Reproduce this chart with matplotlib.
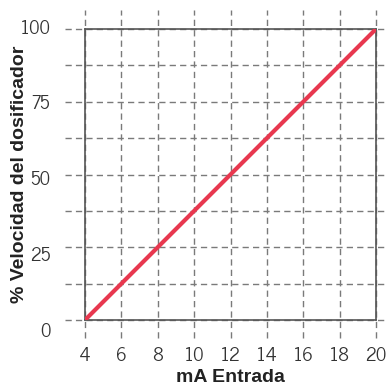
import matplotlib
matplotlib.use("Agg")
import matplotlib.pyplot as plt
from matplotlib.lines import Line2D

# data
ma_input = [4, 20]
speed_pct = [0, 100]
x_ticks = [4, 6, 8, 10, 12, 14, 16, 18, 20]
y_ticks = [0, 25, 50, 75, 100]
y_grid = [0, 12.5, 25, 37.5, 50, 62.5, 75, 87.5, 100]

plt.rcParams["font.family"] = ["News Cycle", "DejaVu Sans"]

fig = plt.figure(figsize=(3.88, 3.88), dpi=100)
ax = fig.add_axes([85 / 388, (388 - 320) / 388, 291 / 388, 291 / 388])

# dashed grid, running past the frame like the original
grid_kw = dict(color="#7a7a7a", lw=1.0, ls=(0, (4.5, 3)), clip_on=False, zorder=1)
for xv in x_ticks:
    ax.add_line(Line2D([xv, xv], [-0.062, 1.065], transform=ax.get_xaxis_transform(), **grid_kw))
for yv in y_grid:
    ax.add_line(Line2D([-0.069, 1.027], [yv, yv], transform=ax.get_yaxis_transform(), **grid_kw))

ax.plot(ma_input, speed_pct, color="#E8384F", lw=3.0, solid_capstyle="butt", zorder=3)

ax.set_xlim(4, 20)
ax.set_ylim(0, 100)
ax.set_xticks(x_ticks)
ax.set_yticks(y_ticks)
ax.tick_params(length=0, labelsize=13.5, colors="#333333")
ax.tick_params(axis="x", pad=19.5)
ax.tick_params(axis="y", labelleft=False)
for s in ax.spines.values():
    s.set_color("#555555")
    s.set_linewidth(1.2)

# y labels in the original are spread a bit wider than the grid lines,
# so they live on a slightly taller invisible axes
ax_lab = fig.add_axes([85 / 388, (388 - 330) / 388, 291 / 388, 303.5 / 388], zorder=-1)
ax_lab.set_ylim(0, 100)
ax_lab.set_yticks(y_ticks)
ax_lab.set_xticks([])
ax_lab.patch.set_visible(False)
ax_lab.tick_params(length=0, labelsize=13.5, colors="#333333", pad=25)
for s in ax_lab.spines.values():
    s.set_visible(False)

lab_font = dict(family="Liberation Sans", fontsize=14, fontweight="bold", color="#222222")
ax.set_xlabel("mA Entrada", **lab_font)
ax.set_ylabel("% Velocidad del dosificador", **lab_font)
ax.xaxis.set_label_coords(0.5, -0.17)
ax.yaxis.set_label_coords(-0.196, 0.5)

fig.savefig("out.png", dpi=100)
